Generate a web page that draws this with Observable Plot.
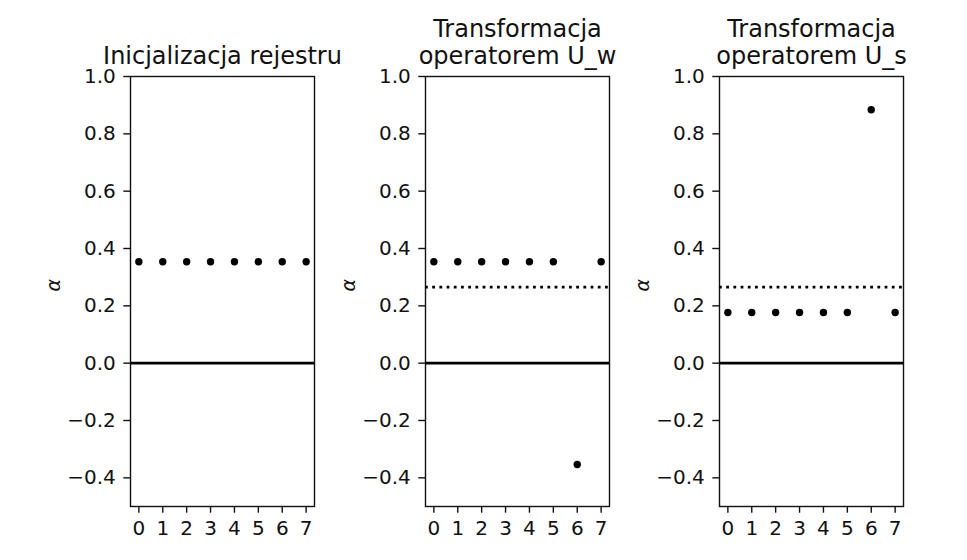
<!DOCTYPE html>
<html>
<head>
<meta charset="utf-8">
<script src="https://cdn.jsdelivr.net/npm/d3@7"></script>
<script src="https://cdn.jsdelivr.net/npm/@observablehq/plot@0.6"></script>
<style>
  html, body { margin: 0; padding: 0; background: white; }
  #wrap { position: relative; width: 967px; height: 560px; font-family: "DejaVu Sans", sans-serif; }
  #wrap > div { position: absolute; top: 0; }
</style>
</head>
<body>
<div id="wrap"></div>
<script>
// Data
const states = [0, 1, 2, 3, 4, 5, 6, 7];
const initAmp = [0.3536, 0.3536, 0.3536, 0.3536, 0.3536, 0.3536, 0.3536, 0.3536];
const oracleAmp = [0.3536, 0.3536, 0.3536, 0.3536, 0.3536, 0.3536, -0.3536, 0.3536];
const diffAmp = [0.1768, 0.1768, 0.1768, 0.1768, 0.1768, 0.1768, 0.8839, 0.1768];
const meanLines = [null, 0.2652, 0.2652];
const titles = ["Inicjalizacja rejestru", "Transformacja\noperatorem U_w", "Transformacja\noperatorem U_s"];
const yTicks = [-0.4, -0.2, 0.0, 0.2, 0.4, 0.6, 0.8, 1.0];
const yLabel = "α";

const series = [initAmp, oracleAmp, diffAmp];
const frameLefts = [130, 425, 719];
const ML = 90, MR = 12, FW = 184;

const wrap = document.getElementById("wrap");
series.forEach((vals, k) => {
  const data = states.map((s, i) => ({state: s, amp: vals[i]}));
  const marks = [
    Plot.frame({stroke: "#111", strokeWidth: 1.4}),
    Plot.ruleY([0], {stroke: "black", strokeWidth: 2.6}),
  ];
  if (meanLines[k] !== null) {
    marks.push(Plot.ruleY([meanLines[k]], {stroke: "black", strokeWidth: 2.8, strokeDasharray: "2.8,4.4"}));
  }
  marks.push(
    Plot.dot(data, {x: "state", y: "amp", r: 3.7, fill: "black", stroke: "none"}),
    Plot.axisX({ticks: states, tickSize: 6.7, tickPadding: 7.5, tickFormat: d => String(d), fontSize: 20, stroke: "#111", strokeWidth: 1.4, fill: "#111", label: null}),
    Plot.axisY({ticks: yTicks, tickSize: 6.7, tickPadding: 8, tickFormat: d3.format(".1f"), fontSize: 20, stroke: "#111", strokeWidth: 1.4, fill: "#111", label: null}),
    Plot.text([yLabel], {frameAnchor: "left", dx: -77, rotate: -90, fontStyle: "italic", fontSize: 19, fill: "#111"}),
    Plot.text([titles[k]], {frameAnchor: "top", dy: -13, lineAnchor: "bottom", lineHeight: 1.1, fontSize: 24, fill: "#111"})
  );
  const chart = Plot.plot({
    width: ML + FW + MR,
    height: 560,
    marginLeft: ML,
    marginRight: MR,
    marginTop: 76,
    marginBottom: 54,
    style: {background: "transparent", fontFamily: "DejaVu Sans, sans-serif", overflow: "visible"},
    x: {domain: [-0.35, 7.35], axis: null},
    y: {domain: [-0.5, 1.0], axis: null},
    marks
  });
  const holder = document.createElement("div");
  holder.style.left = (frameLefts[k] - ML) + "px";
  holder.appendChild(chart);
  wrap.appendChild(holder);
});
</script>
</body>
</html>
